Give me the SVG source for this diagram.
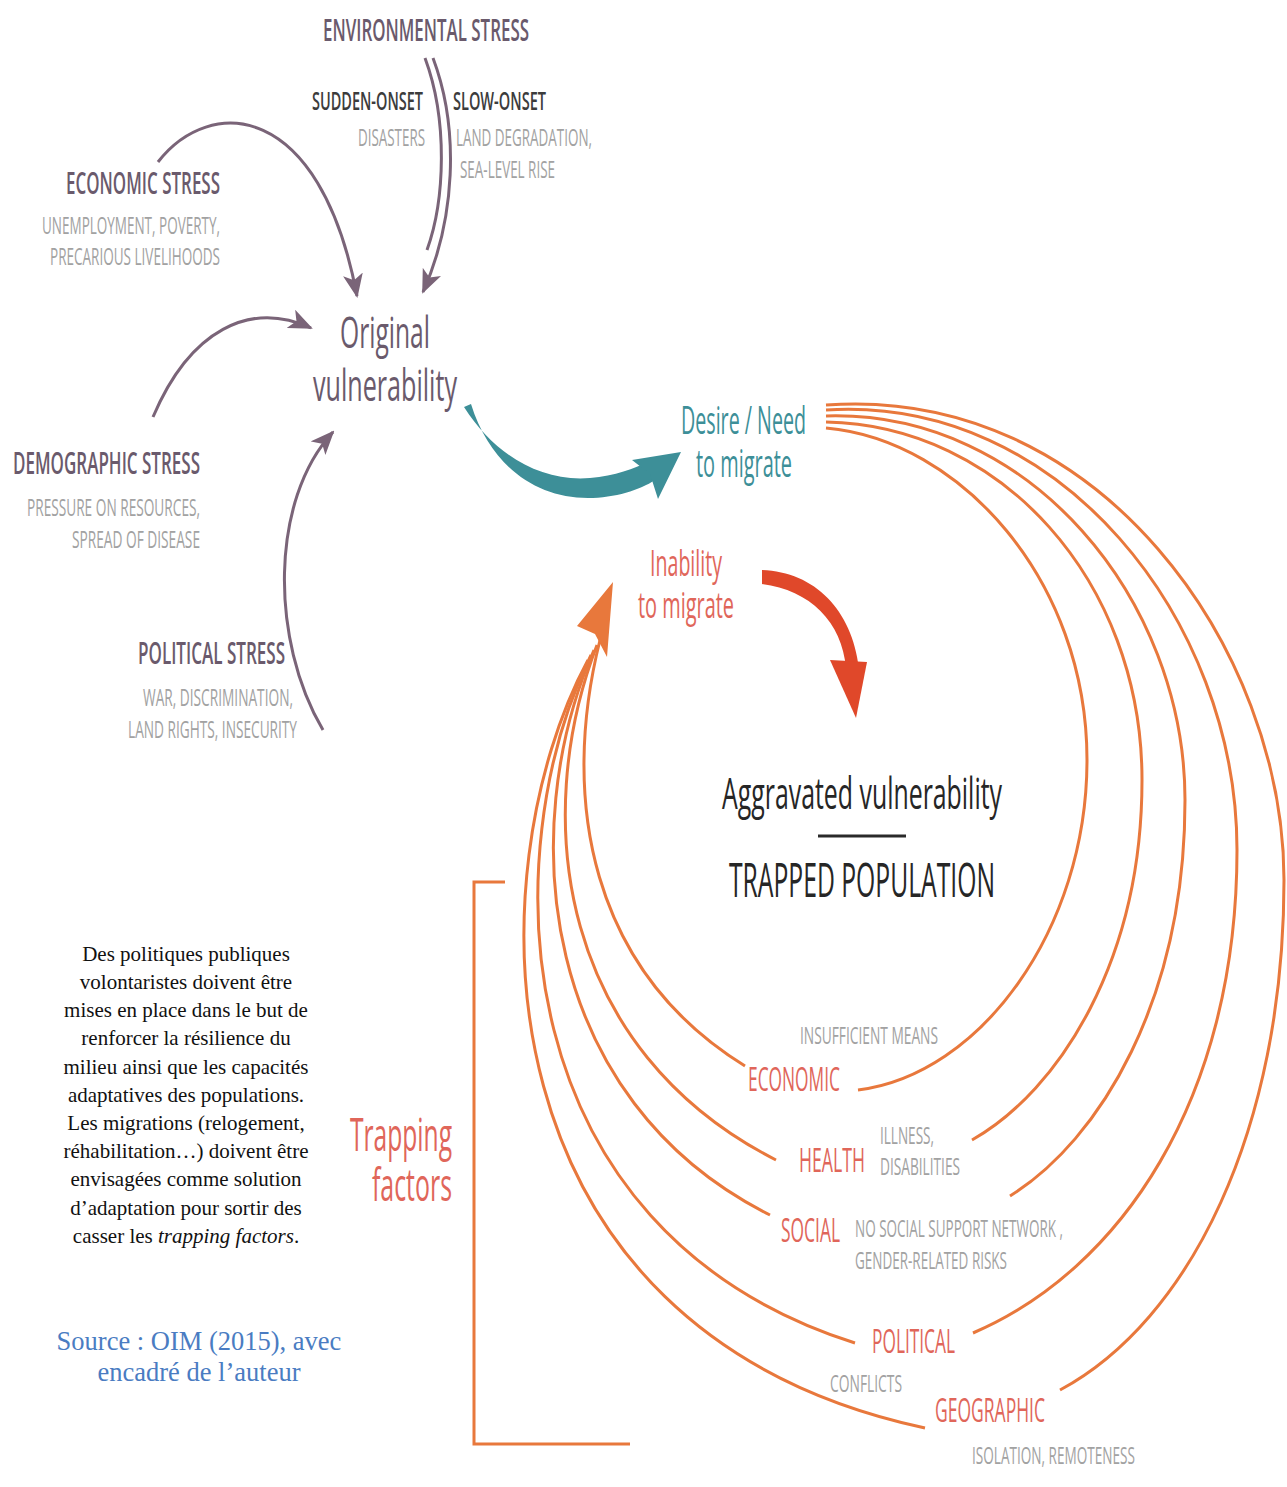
<svg xmlns="http://www.w3.org/2000/svg" width="1287" height="1487" viewBox="0 0 1287 1487">
<style>
.cd{font-family:"Open Sans","Liberation Sans",sans-serif;}
.hp{fill:#6a5a6c;font-size:31px;font-weight:600;}
.hd{fill:#3c3c3c;font-size:25px;font-weight:600;}
.sg{fill:#a2a2a2;font-size:24px;}
.big{font-size:44px;}
.og{fill:#e0665a;}
.ser{font-family:"Liberation Serif","Times New Roman",serif;font-size:21px;fill:#111;text-anchor:middle;}
.src{font-family:"Liberation Serif","Times New Roman",serif;font-size:26.5px;fill:#4a7cc2;text-anchor:middle;}
.pl{fill:none;stroke:#7a6478;stroke-width:3;}
.oa{fill:none;stroke:#e8783c;stroke-width:3;}
</style>
<defs>
<marker id="ph" markerUnits="userSpaceOnUse" viewBox="0 0 24 20" refX="22" refY="10" markerWidth="24" markerHeight="20" orient="auto">
<path d="M0,0 L24,10 L0,20 L6,10 Z" fill="#7a6478"/>
</marker>
</defs>
<rect width="1287" height="1487" fill="#fff"/>

<g id="connectors">
<path class="pl" d="M158,162 C210,95 320,100 357,296" marker-end="url(#ph)"/>
<path class="pl" d="M425,58 C448,120 445,200 427,250"/>
<path class="pl" d="M433,58 C460,130 455,220 423,292" marker-end="url(#ph)"/>
<path class="pl" d="M153,417 C190,330 250,300 311,328" marker-end="url(#ph)"/>
<path class="pl" d="M323,730 C270,640 270,500 333,432" marker-end="url(#ph)"/>
<g id="teal-arrow" fill="#3d8f98">
<path d="M464,407 C495,455 540,482 590,478 C615,476 635,468 648,462 L655,480 C640,490 615,498 588,498 C535,498 490,465 471,404 Z"/>
<polygon points="681,452 632,460 650,474 658,499"/>
</g>
<g id="red-arrow" fill="#e0482a">
<path d="M762,570 C815,572 852,610 859,668 L846,668 C842,622 810,590 762,584 Z"/>
<polygon points="856,718 830,660 867,662"/>
</g>
<g id="right-arcs">
<path class="oa" d="M826,428 C960,440 1087,580 1087,760 C1087,930 980,1075 858,1090"/>
<path class="oa" d="M826,422 C1000,425 1142,580 1142,780 C1142,960 1060,1090 972,1140"/>
<path class="oa" d="M826,416 C1030,410 1185,600 1185,800 C1185,1000 1100,1140 1010,1196"/>
<path class="oa" d="M826,410 C1060,395 1237,620 1237,850 C1237,1100 1120,1270 973,1333"/>
<path class="oa" d="M826,405 C1100,385 1284,650 1284,880 C1284,1130 1190,1320 1060,1390"/>
</g>
<g id="left-arcs">
<path class="oa" d="M600,640 C560,800 590,970 745,1066"/>
<path class="oa" d="M597,645 C530,820 560,1050 776,1160"/>
<path class="oa" d="M594,650 C515,830 540,1100 770,1215"/>
<path class="oa" d="M591,655 C495,850 500,1230 855,1343"/>
<path class="oa" d="M588,660 C475,870 470,1330 925,1428"/>
<polygon points="613,582 577,626 595,634 607,657" fill="#e8783c"/>
</g>
<polyline id="bracket" points="505,882 474,882 474,1444 630,1444" fill="none" stroke="#e8783c" stroke-width="3"/>
</g>

<g id="environmental-stress" class="cd">
<text class="hp" x="323" y="41" textLength="206" lengthAdjust="spacingAndGlyphs">ENVIRONMENTAL STRESS</text>
<text class="hd" x="312" y="110" textLength="111" lengthAdjust="spacingAndGlyphs">SUDDEN-ONSET</text>
<text class="sg" x="358" y="146" textLength="67" lengthAdjust="spacingAndGlyphs">DISASTERS</text>
<text class="hd" x="453" y="110" textLength="93" lengthAdjust="spacingAndGlyphs">SLOW-ONSET</text>
<text class="sg" x="456" y="146" textLength="136" lengthAdjust="spacingAndGlyphs">LAND DEGRADATION,</text>
<text class="sg" x="460" y="178" textLength="95" lengthAdjust="spacingAndGlyphs">SEA-LEVEL RISE</text>
</g>

<g id="economic-stress" class="cd">
<text class="hp" x="66" y="194" textLength="154" lengthAdjust="spacingAndGlyphs">ECONOMIC STRESS</text>
<text class="sg" x="42" y="234" textLength="178" lengthAdjust="spacingAndGlyphs">UNEMPLOYMENT, POVERTY,</text>
<text class="sg" x="50" y="265" textLength="170" lengthAdjust="spacingAndGlyphs">PRECARIOUS LIVELIHOODS</text>
</g>

<g id="original-vulnerability" class="cd">
<text class="big" fill="#6a5a6c" x="340" y="348" textLength="90" lengthAdjust="spacingAndGlyphs">Original</text>
<text class="big" fill="#6a5a6c" x="313" y="401" textLength="144" lengthAdjust="spacingAndGlyphs">vulnerability</text>
</g>

<g id="demographic-stress" class="cd">
<text class="hp" x="13" y="474" textLength="187" lengthAdjust="spacingAndGlyphs">DEMOGRAPHIC STRESS</text>
<text class="sg" x="27" y="516" textLength="173" lengthAdjust="spacingAndGlyphs">PRESSURE ON RESOURCES,</text>
<text class="sg" x="72" y="548" textLength="128" lengthAdjust="spacingAndGlyphs">SPREAD OF DISEASE</text>
</g>

<g id="political-stress" class="cd">
<text class="hp" x="138" y="664" textLength="147" lengthAdjust="spacingAndGlyphs">POLITICAL STRESS</text>
<text class="sg" x="143" y="706" textLength="150" lengthAdjust="spacingAndGlyphs">WAR, DISCRIMINATION,</text>
<text class="sg" x="128" y="738" textLength="169" lengthAdjust="spacingAndGlyphs">LAND RIGHTS, INSECURITY</text>
</g>

<g id="desire-need" class="cd">
<text fill="#3d8f98" font-size="38" x="681" y="434" textLength="125" lengthAdjust="spacingAndGlyphs">Desire / Need</text>
<text fill="#3d8f98" font-size="38" x="696" y="477" textLength="96" lengthAdjust="spacingAndGlyphs">to migrate</text>
</g>

<g id="inability" class="cd">
<text class="og" font-size="37" x="650" y="576" textLength="72" lengthAdjust="spacingAndGlyphs">Inability</text>
<text class="og" font-size="37" x="638" y="618" textLength="96" lengthAdjust="spacingAndGlyphs">to migrate</text>
</g>

<g id="trapped-population" class="cd" fill="#262626">
<text font-size="44" x="722" y="809" textLength="280" lengthAdjust="spacingAndGlyphs">Aggravated vulnerability</text>
<line x1="818" y1="836" x2="906" y2="836" stroke="#2a2a2a" stroke-width="3"/>
<text font-size="48" x="729" y="897" textLength="266" lengthAdjust="spacingAndGlyphs">TRAPPED POPULATION</text>
</g>

<g id="trapping-factors" class="cd">
<text class="og" font-size="45" x="350" y="1151" textLength="102" lengthAdjust="spacingAndGlyphs">Trapping</text>
<text class="og" font-size="45" x="372" y="1201" textLength="80" lengthAdjust="spacingAndGlyphs">factors</text>
</g>

<g id="factor-economic" class="cd">
<text class="sg" x="800" y="1044" textLength="138" lengthAdjust="spacingAndGlyphs">INSUFFICIENT MEANS</text>
<text class="og" font-size="33" x="748" y="1091" textLength="92" lengthAdjust="spacingAndGlyphs">ECONOMIC</text>
</g>
<g id="factor-health" class="cd">
<text class="og" font-size="33" x="799" y="1172" textLength="66" lengthAdjust="spacingAndGlyphs">HEALTH</text>
<text class="sg" x="880" y="1144" textLength="54" lengthAdjust="spacingAndGlyphs">ILLNESS,</text>
<text class="sg" x="880" y="1175" textLength="80" lengthAdjust="spacingAndGlyphs">DISABILITIES</text>
</g>
<g id="factor-social" class="cd">
<text class="og" font-size="33" x="781" y="1242" textLength="59" lengthAdjust="spacingAndGlyphs">SOCIAL</text>
<text class="sg" x="855" y="1237" textLength="208" lengthAdjust="spacingAndGlyphs">NO SOCIAL SUPPORT NETWORK ,</text>
<text class="sg" x="855" y="1269" textLength="152" lengthAdjust="spacingAndGlyphs">GENDER-RELATED RISKS</text>
</g>
<g id="factor-political" class="cd">
<text class="og" font-size="33" x="872" y="1353" textLength="83" lengthAdjust="spacingAndGlyphs">POLITICAL</text>
<text class="sg" x="830" y="1392" textLength="72" lengthAdjust="spacingAndGlyphs">CONFLICTS</text>
</g>
<g id="factor-geographic" class="cd">
<text class="og" font-size="33" x="935" y="1422" textLength="110" lengthAdjust="spacingAndGlyphs">GEOGRAPHIC</text>
<text class="sg" x="972" y="1464" textLength="163" lengthAdjust="spacingAndGlyphs">ISOLATION, REMOTENESS</text>
</g>

<g id="author-note">
<text class="ser" x="186" y="961">Des politiques publiques</text>
<text class="ser" x="186" y="989">volontaristes doivent être</text>
<text class="ser" x="186" y="1017">mises en place dans le but de</text>
<text class="ser" x="186" y="1045">renforcer la résilience du</text>
<text class="ser" x="186" y="1074">milieu ainsi que les capacités</text>
<text class="ser" x="186" y="1102">adaptatives des populations.</text>
<text class="ser" x="186" y="1130">Les migrations (relogement,</text>
<text class="ser" x="186" y="1158">réhabilitation…) doivent être</text>
<text class="ser" x="186" y="1186">envisagées comme solution</text>
<text class="ser" x="186" y="1215">d’adaptation pour sortir des</text>
<text class="ser" x="186" y="1243">casser les <tspan font-style="italic">trapping factors</tspan>.</text>
</g>

<g id="source">
<text class="src" x="199" y="1350">Source : OIM (2015), avec</text>
<text class="src" x="199" y="1381">encadré de l’auteur</text>
</g>
</svg>
